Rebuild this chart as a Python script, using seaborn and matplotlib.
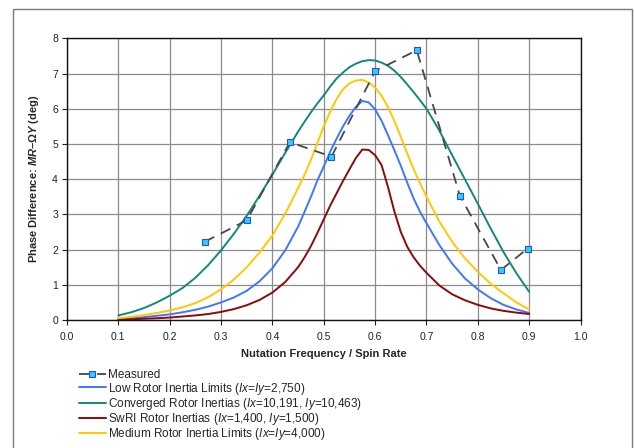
import numpy as np
import pandas as pd
import matplotlib
matplotlib.use('Agg')
import matplotlib.pyplot as plt
import seaborn as sns
from matplotlib.patches import Rectangle

# frequency ratio grid shared by the model curves (finer around the peak)
freq = [0.100, 0.125, 0.150, 0.175, 0.200, 0.225, 0.250, 0.275, 0.300, 0.325,
        0.350, 0.375, 0.400, 0.425,
        0.4500, 0.4625, 0.4750, 0.4875, 0.5000, 0.5125, 0.5250, 0.5375, 0.5500,
        0.5625, 0.5750, 0.5875, 0.6000, 0.6125, 0.6250, 0.6375, 0.6500, 0.6625,
        0.6750, 0.6875, 0.7000,
        0.725, 0.750, 0.775, 0.800, 0.825, 0.850, 0.875, 0.900]

low_inertia = [0.03, 0.05, 0.08, 0.12, 0.16, 0.22, 0.29, 0.38, 0.50, 0.64,
               0.83, 1.10, 1.47, 1.98,
               2.65, 3.07, 3.50, 3.96, 4.36, 4.78, 5.15, 5.50, 5.80,
               6.05, 6.22, 6.18, 5.98, 5.66, 5.25, 4.82, 4.38, 3.90,
               3.45, 3.07, 2.75,
               2.13, 1.60, 1.18, 0.87, 0.62, 0.43, 0.30, 0.20]
converged = [0.13, 0.22, 0.34, 0.50, 0.69, 0.91, 1.20, 1.56, 1.98, 2.45,
             2.96, 3.53, 4.13, 4.75,
             5.35, 5.63, 5.90, 6.15, 6.38, 6.63, 6.86, 7.03, 7.18,
             7.28, 7.35, 7.38, 7.37, 7.31, 7.22, 7.08, 6.90, 6.69,
             6.47, 6.24, 6.00,
             5.38, 4.68, 3.99, 3.30, 2.60, 1.93, 1.33, 0.80]
swri = [0.01, 0.02, 0.035, 0.05, 0.07, 0.10, 0.13, 0.17, 0.23, 0.31,
        0.42, 0.57, 0.78, 1.08,
        1.50, 1.78, 2.10, 2.47, 2.86, 3.25, 3.60, 3.95, 4.28,
        4.60, 4.84, 4.83, 4.68, 4.40, 3.78, 3.08, 2.50, 2.08,
        1.78, 1.54, 1.34,
        0.98, 0.73, 0.56, 0.43, 0.33, 0.26, 0.21, 0.17]
medium = [0.05, 0.09, 0.14, 0.20, 0.27, 0.36, 0.48, 0.65, 0.87, 1.15,
          1.50, 1.92, 2.40, 3.02,
          3.75, 4.12, 4.55, 5.02, 5.50, 5.92, 6.28, 6.55, 6.72,
          6.80, 6.82, 6.74, 6.60, 6.37, 6.05, 5.65, 5.20, 4.73,
          4.28, 3.88, 3.50,
          2.80, 2.22, 1.75, 1.37, 1.03, 0.76, 0.50, 0.30]

meas_x = [0.268, 0.350, 0.434, 0.515, 0.600, 0.681, 0.765, 0.845, 0.897]
meas_y = [2.22, 2.83, 5.05, 4.64, 7.07, 7.66, 3.53, 1.42, 2.03]

sns.set_style('white')
plt.rcParams['font.family'] = ['Liberation Sans', 'DejaVu Sans']
plt.rcParams['mathtext.fontset'] = 'custom'
plt.rcParams['mathtext.rm'] = 'Liberation Sans'
plt.rcParams['mathtext.it'] = 'Liberation Sans:italic'
plt.rcParams['mathtext.bf'] = 'Liberation Sans:bold'
plt.rcParams['mathtext.bfit'] = 'Liberation Sans:italic:bold'

fig = plt.figure(figsize=(6.34, 4.48), dpi=100)
ax = fig.add_axes([0.1057, 0.2857, 0.81, 0.6288])

curves = pd.DataFrame({'freq': freq, 'low': low_inertia, 'conv': converged,
                       'swri': swri, 'med': medium})

# Measured goes first in legend but on top in drawing
sns.lineplot(x=meas_x, y=meas_y, ax=ax, color='#474747', linestyle=(0, (6, 4)),
             lw=1.3, marker='s', markersize=4.5, markerfacecolor='#33ccff',
             markeredgecolor='#2255cc', markeredgewidth=0.8, zorder=6,
             label='Measured')
sns.lineplot(data=curves, x='freq', y='low', ax=ax, color='#3f76ff', lw=1.4,
             label='Low Rotor Inertia Limits ($\\mathit{Ix}$=$\\mathit{Iy}$=2,750)')
sns.lineplot(data=curves, x='freq', y='conv', ax=ax, color='#13877d', lw=1.4,
             label='Converged Rotor Inertias ($\\mathit{Ix}$=10,191, $\\mathit{Iy}$=10,463)')
sns.lineplot(data=curves, x='freq', y='swri', ax=ax, color='#8b0a0a', lw=1.4,
             label='SwRI Rotor Inertias ($\\mathit{Ix}$=1,400, $\\mathit{Iy}$=1,500)')
sns.lineplot(data=curves, x='freq', y='med', ax=ax, color='#ffc800', lw=1.4,
             label='Medium Rotor Inertia Limits ($\\mathit{Ix}$=$\\mathit{Iy}$=4,000)')

ax.set_xlim(0, 1)
ax.set_ylim(0, 8)
ax.set_xticks(np.arange(0, 1.01, 0.1))
ax.set_yticks(range(0, 9))
ax.set_xticklabels([f'{v:.1f}' for v in np.arange(0, 1.01, 0.1)])
ax.grid(True, color='#8c8c8c', lw=0.9)
ax.set_axisbelow(True)
ax.tick_params(axis='both', which='both', direction='out', length=3.5, width=0.8,
               labelsize=7.5, colors='#222222', left=True, bottom=True)
ax.tick_params(axis='x', pad=5)
ax.tick_params(axis='y', pad=3)
for s in ax.spines.values():
    s.set_color('#111111')
    s.set_linewidth(1.0)

ax.set_xlabel('Nutation Frequency / Spin Rate', fontsize=8, fontweight='bold', labelpad=5)
ax.set_ylabel('Phase Difference: $\\mathbfit{MR}$–Ω$\\mathbfit{Y}$ (deg)', fontsize=8,
              fontweight='bold', labelpad=8)

leg = ax.legend(loc='upper left', bbox_to_anchor=(0.117, 0.186), bbox_transform=fig.transFigure,
                frameon=False, fontsize=8.5, handlelength=2.3, handletextpad=0.2,
                labelspacing=-0.07, borderaxespad=0)

# outer frame around the whole chart
fig.patches.append(Rectangle((0.0205, -0.05), 0.977, 1.031, transform=fig.transFigure,
                             fill=False, edgecolor='#7a7a7a', lw=1.0))

fig.savefig('out.png', dpi=100)
